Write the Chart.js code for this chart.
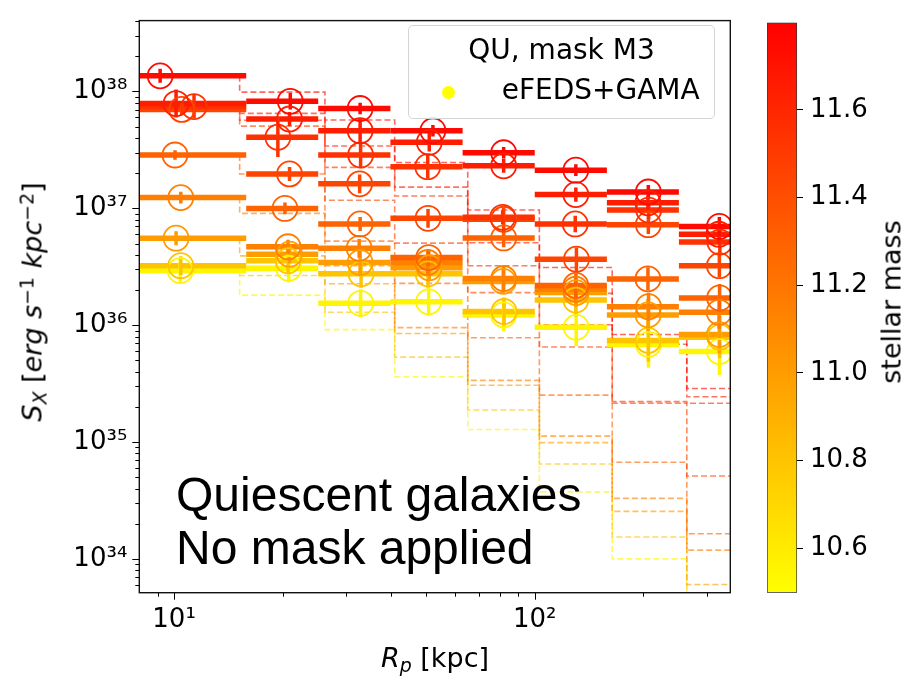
<!DOCTYPE html>
<html>
<head>
<meta charset="utf-8">
<title>S_X profiles</title>
<script src="https://cdn.jsdelivr.net/npm/chart.js"></script>
<style>
  html, body { margin:0; padding:0; background:#fff; }
  #fig { position:relative; width:907px; height:680px; overflow:hidden; background:#fff; font-family:'DejaVu Sans', sans-serif; color:#000; }
  #fig canvas { position:absolute; top:0; }
  .txt { position:absolute; white-space:nowrap; line-height:1; }
  .sub { font-size:0.7em; position:relative; top:0.28em; }
  .sup { font-size:0.7em; position:relative; top:-0.45em; font-style:normal; }
</style>
</head>
<body>
<div id="fig">
  <canvas id="main" width="907" height="680" style="left:0"></canvas>
  <canvas id="cbar" width="167" height="680" style="left:740px"></canvas>

  <div class="txt" style="left:32px; top:302px; font-size:27px; transform:translate(-50%,-50%) rotate(-90deg);"><i>S</i><i class="sub">X</i> [<i>erg</i> <i>s</i><span class="sup">−1</span> <i>kpc</i><span class="sup">−2</span>]</div>
  <div class="txt" style="left:435px; top:644px; font-size:27px; transform:translateX(-50%);"><i>R</i><i class="sub">p</i> [kpc]</div>
  <div class="txt" style="left:891px; top:302px; font-size:27px; transform:translate(-50%,-50%) rotate(-90deg);">stellar mass</div>

  <div style="position:absolute; left:408px; top:25px; width:305px; height:92px; border:1px solid #d4d4d4; border-radius:5px; background:rgba(255,255,255,0.8);"></div>
  <div class="txt" style="left:408px; width:307px; top:35.6px; text-align:center; font-size:28px;">QU, mask M3</div>
  <div style="position:absolute; left:441.8px; top:86.2px; width:13px; height:13px; border-radius:50%; background:#ffff00;"></div>
  <div class="txt" style="left:501.7px; top:76.3px; font-size:28px;">eFEDS+GAMA</div>

  <div class="txt" style="left:176px; top:471px; font-family:'Liberation Sans', Arial, sans-serif; font-size:48px;">Quiescent galaxies</div>
  <div class="txt" style="left:176px; top:524.4px; font-family:'Liberation Sans', Arial, sans-serif; font-size:48px;">No mask applied</div>
</div>

<script>
// ---------------- data ----------------
const radialBinEdges = [5, 15.85, 25.1, 39.8, 63.1, 100, 158.5, 251, 398];   // kpc, horizontal bar extents
const modelStepEdges = [15.2, 26.2, 40.9, 65.2, 103, 164, 264, 400];         // kpc, dashed step transitions
const stellarMass = [11.75, 11.65, 11.55, 11.45, 11.3, 11.15, 11.0, 10.8, 10.55];
const xMajorTicks = [10, 100];
const yMajorTicks = [1e34, 1e35, 1e36, 1e37, 1e38];
const colorbarTicks = [10.6, 10.8, 11.0, 11.2, 11.4, 11.6];

const radiusKpc = [
  [9.15, 21.0, 32.8, 52.2, 82.0, 130.0, 206.5, 325.0],
  [10.13, 20.9, 32.8, 51.0, 82.0, 130.0, 206.0, 324.0],
  [11.36, 19.4, 32.9, 50.5, 81.5, 129.5, 207.0, 326.0],
  [10.5, 20.9, 32.7, 50.6, 82.0, 130.5, 206.5, 325.0],
  [10.06, 20.3, 32.8, 50.8, 82.0, 130.0, 206.0, 325.5],
  [10.44, 20.7, 32.6, 50.5, 82.0, 129.8, 206.8, 324.5],
  [10.13, 20.9, 32.8, 51.0, 81.8, 130.2, 206.2, 325.0],
  [10.44, 20.7, 33.0, 50.6, 82.2, 130.0, 206.5, 325.8],
  [10.4, 20.8, 32.9, 50.8, 82.0, 130.3, 206.7, 325.2]
];

const surfaceBrightness = [
  [1.36e38, 8.24e37, 7.15e37, 4.61e37, 2.99e37, 2.12e37, 1.38e37, 7.00e36],
  [7.88e37, 5.81e37, 4.61e37, 3.68e37, 2.31e37, 1.31e37, 1.115e37, 6.00e36],
  [7.43e37, 4.06e37, 2.86e37, 2.27e37, 8.38e36, 7.35e36, 9.67e36, 5.14e36],
  [7.02e37, 1.97e37, 1.62e37, 8.22e36, 8.06e36, 3.67e36, 7.24e36, 3.23e36],
  [2.86e37, 9.98e36, 7.35e36, 3.79e36, 5.58e36, 2.19e36, 2.49e36, 1.71e36],
  [1.235e37, 4.69e36, 4.55e36, 3.44e36, 2.51e36, 2.03e36, 1.44e36, 1.29e36],
  [5.55e36, 4.05e36, 3.44e36, 3.10e36, 2.37e36, 1.90e36, 1.225e36, 8.32e35],
  [3.23e36, 3.56e36, 2.75e36, 2.75e36, 1.31e36, 1.64e36, 7.41e35, 7.90e35],
  [2.93e36, 3.07e36, 1.54e36, 1.585e36, 1.225e36, 9.58e35, 6.86e35, 5.95e35]
];

const errorDex = [
  [0.06, 0.07, 0.05, 0.05, 0.05, 0.05, 0.06, 0.08],
  [0.12, 0.06, 0.10, 0.08, 0.06, 0.06, 0.06, 0.08],
  [0.10, 0.17, 0.11, 0.10, 0.06, 0.07, 0.08, 0.10],
  [0.05, 0.06, 0.08, 0.08, 0.10, 0.10, 0.08, 0.10],
  [0.04, 0.05, 0.06, 0.07, 0.08, 0.10, 0.10, 0.12],
  [0.05, 0.06, 0.08, 0.10, 0.10, 0.12, 0.12, 0.14],
  [0.06, 0.08, 0.10, 0.10, 0.10, 0.12, 0.14, 0.16],
  [0.08, 0.10, 0.12, 0.12, 0.12, 0.14, 0.18, 0.18],
  [0.10, 0.12, 0.12, 0.12, 0.14, 0.16, 0.20, 0.20]
];

const modelProfile = [
  [1.36e38, 9.88e37, 5.70e37, 2.47e37, 9.67e36, 3.12e36, 8.32e35, 2.87e35],
  [7.88e37, 6.49e37, 3.41e37, 1.52e37, 5.07e36, 1.87e36, 6.86e35, 2.44e35],
  [7.43e37, 5.67e37, 2.24e37, 1.276e37, 3.23e36, 1.01e36, 2.22e35, 2.15e35],
  [7.02e37, 5.05e37, 1.174e37, 5.04e36, 1.90e36, 6.51e35, 2.15e35, 5.12e34],
  [2.86e37, 1.966e37, 5.24e36, 2.28e36, 7.81e35, 2.52e35, 6.71e34, 1.64e34],
  [1.235e37, 9.06e36, 3.23e36, 9.53e35, 3.37e35, 1.125e35, 3.30e34, 1.19e34],
  [5.55e36, 3.92e36, 2.26e36, 8.48e35, 3.06e35, 9.89e34, 2.55e34, 6.04e33],
  [3.23e36, 2.66e36, 1.29e36, 5.33e35, 1.88e35, 6.49e34, 1.54e34, 3.5e33],
  [2.93e36, 1.81e36, 9.17e35, 3.62e35, 1.28e35, 3.75e34, 1.0e34, 2.0e33]
];

// ---------------- helpers ----------------
const X_MIN = 8.01, X_MAX = 348.5;
const Y_MIN = 5.14e33, Y_MAX = 4.04e38;
const CB_MIN = 10.4985, CB_MAX = 11.799;

function massColor(m, a) {
  const t = Math.min(1, Math.max(0, (m - CB_MIN) / (CB_MAX - CB_MIN)));
  const g = Math.round(255 * (1 - t));
  return a === undefined ? `rgb(255,${g},0)` : `rgba(255,${g},0,${a})`;
}
const SUP = {'0':'⁰','1':'¹','2':'²','3':'³','4':'⁴','5':'⁵','6':'⁶','7':'⁷','8':'⁸','9':'⁹','-':'⁻'};
function powLabel(v) {
  const e = Math.round(Math.log10(v));
  return '10' + String(e).split('').map(c => SUP[c]).join('');
}
function logTicks(min, max, majors) {
  const out = [];
  for (let n = Math.floor(Math.log10(min)); n <= Math.ceil(Math.log10(max)); n++) {
    for (let k = 1; k <= 9; k++) {
      const v = k * Math.pow(10, n);
      if (v >= min * 0.9999 && v <= max * 1.0001) {
        out.push({ value: v, major: majors.some(mj => Math.abs(mj - v) / mj < 1e-6) });
      }
    }
  }
  return out;
}

// ---------------- datasets ----------------
const datasets = [];
stellarMass.forEach((m, i) => {
  const col = massColor(m);
  // dashed step profile
  const mp = modelProfile[i];
  const modelPts = [{ x: modelStepEdges[0], y: mp[0] }];
  for (let j = 1; j < mp.length; j++) {
    modelPts.push({ x: modelStepEdges[j - 1], y: mp[j] });
    modelPts.push({ x: modelStepEdges[j], y: mp[j] });
  }
  datasets.push({
    type: 'line', data: modelPts, borderColor: massColor(m, 0.62), borderWidth: 1.6,
    borderDash: [6, 3], pointRadius: 0, fill: false, tension: 0, clip: 0, order: 4
  });
  // horizontal bin bars
  const barPts = [];
  surfaceBrightness[i].forEach((s, j) => {
    barPts.push({ x: radialBinEdges[j], y: s });
    barPts.push({ x: radialBinEdges[j + 1], y: s });
    barPts.push({ x: radialBinEdges[j + 1], y: null });
  });
  datasets.push({
    type: 'line', data: barPts, borderColor: col, borderWidth: 5.5, pointRadius: 0,
    fill: false, tension: 0, spanGaps: false, clip: 0, order: 3
  });
  // vertical error bars
  const errPts = [];
  surfaceBrightness[i].forEach((s, j) => {
    const r = radiusKpc[i][j], e = errorDex[i][j];
    errPts.push({ x: r, y: s * Math.pow(10, -e) });
    errPts.push({ x: r, y: s * Math.pow(10, e) });
    errPts.push({ x: r, y: null });
  });
  datasets.push({
    type: 'line', data: errPts, borderColor: col, borderWidth: 3.5, pointRadius: 0,
    fill: false, tension: 0, spanGaps: false, clip: 0, order: 2
  });
  // open circle markers
  datasets.push({
    type: 'scatter', data: surfaceBrightness[i].map((s, j) => ({ x: radiusKpc[i][j], y: s })),
    pointRadius: 12.5, pointBorderWidth: 1.8, pointBorderColor: col,
    pointBackgroundColor: 'rgba(0,0,0,0)', showLine: false, clip: 0, order: 1
  });
});

// ---------------- tick marks + frame ----------------
const axisDecor = {
  id: 'axisDecor',
  afterDraw(chart) {
    const { ctx, chartArea: a, scales } = chart;
    ctx.save();
    ctx.strokeStyle = '#000';
    ctx.lineWidth = 1;
    ctx.beginPath();
    scales.y.ticks.forEach(t => {
      const p = Math.round(scales.y.getPixelForValue(t.value)) + 0.5;
      const len = t.major ? 7 : 4;
      ctx.moveTo(a.left - len, p); ctx.lineTo(a.left, p);
    });
    scales.x.ticks.forEach(t => {
      const p = Math.round(scales.x.getPixelForValue(t.value)) + 0.5;
      const len = t.major ? 7 : 4;
      ctx.moveTo(p, a.bottom); ctx.lineTo(p, a.bottom + len);
    });
    ctx.stroke();
    ctx.lineWidth = 1.4;
    ctx.strokeStyle = '#111';
    ctx.strokeRect(a.left, a.top, a.right - a.left, a.bottom - a.top);
    ctx.restore();
  }
};

const tickFont = { family: 'DejaVu Sans', size: 26 };

new Chart(document.getElementById('main'), {
  type: 'scatter',
  data: { datasets },
  options: {
    responsive: false, animation: false, events: [],
    layout: { padding: { left: 0, top: 10.7, right: 176.7, bottom: 0 } },
    plugins: { legend: { display: false }, tooltip: { enabled: false } },
    scales: {
      x: {
        type: 'logarithmic', position: 'bottom', min: X_MIN, max: X_MAX,
        afterBuildTicks: s => { s.ticks = logTicks(X_MIN, X_MAX, xMajorTicks); },
        afterFit: s => { s.height = 87.3; },
        grid: { display: false, drawTicks: true, tickLength: 7 },
        border: { display: false },
        ticks: {
          autoSkip: false, maxRotation: 0, minRotation: 0, padding: 5, font: tickFont, color: '#000',
          callback: v => xMajorTicks.some(mj => Math.abs(mj - v) / mj < 1e-6) ? powLabel(v) : ''
        }
      },
      y: {
        type: 'logarithmic', position: 'left', min: Y_MIN, max: Y_MAX,
        afterBuildTicks: s => { s.ticks = logTicks(Y_MIN, Y_MAX, yMajorTicks); },
        afterFit: s => { s.width = 139.3; },
        grid: { display: false, drawTicks: true, tickLength: 7 },
        border: { display: false },
        ticks: {
          autoSkip: false, padding: 5, font: tickFont, color: '#000',
          callback: v => yMajorTicks.some(mj => Math.abs(mj - v) / mj < 1e-6) ? powLabel(v) : ''
        }
      }
    }
  },
  plugins: [axisDecor]
});

// ---------------- colour bar ----------------
new Chart(document.getElementById('cbar'), {
  type: 'bar',
  data: {
    labels: [''],
    datasets: [{
      data: [[CB_MIN, CB_MAX]],
      backgroundColor: (c) => {
        const ca = c.chart.chartArea;
        if (!ca) return 'rgb(255,128,0)';
        const g = c.chart.ctx.createLinearGradient(0, ca.bottom, 0, ca.top);
        g.addColorStop(0, massColor(CB_MIN));
        g.addColorStop(1, massColor(CB_MAX));
        return g;
      },
      borderColor: '#333', borderWidth: 1, borderSkipped: false,
      barPercentage: 1, categoryPercentage: 1
    }]
  },
  options: {
    responsive: false, animation: false, events: [],
    layout: { padding: { left: 27, top: 10.7, right: 0, bottom: 87.3 } },
    plugins: { legend: { display: false }, tooltip: { enabled: false } },
    scales: {
      x: { display: false },
      y: {
        position: 'right', min: CB_MIN, max: CB_MAX,
        afterBuildTicks: s => { s.ticks = colorbarTicks.map(v => ({ value: v })); },
        afterFit: s => { s.width = 110; },
        grid: { display: true, drawOnChartArea: false, drawTicks: true, tickLength: 6, color: '#000', lineWidth: 1 },
        border: { display: false },
        ticks: { padding: 7, font: tickFont, color: '#000', callback: v => Number(v).toFixed(1) }
      }
    }
  }
});
</script>
</body>
</html>
